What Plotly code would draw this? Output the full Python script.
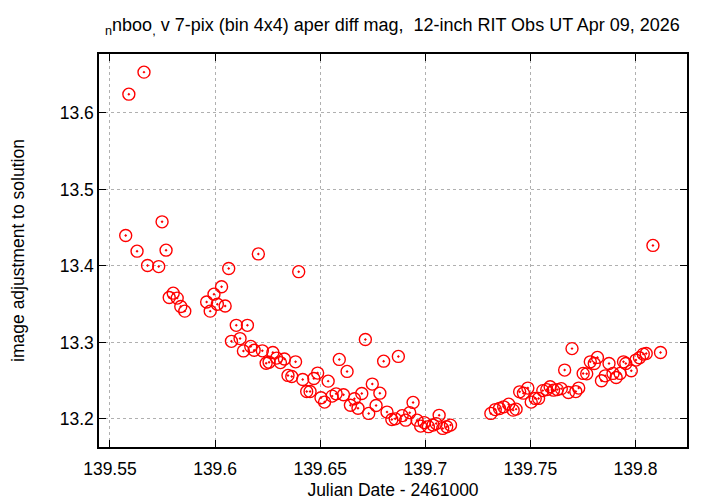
import plotly.graph_objects as go

# Julian Date - 2461000
jd = [
    139.5575, 139.5590, 139.5629, 139.5662, 139.5679, 139.5732, 139.5748, 139.5767,
    139.5782, 139.5801, 139.5820, 139.5837, 139.5856, 139.5960, 139.5977, 139.5995,
    139.6011, 139.6031, 139.6048, 139.6065, 139.6078, 139.6101, 139.6119, 139.6135,
    139.6154, 139.6170, 139.6186, 139.6206, 139.6225, 139.6243, 139.6257, 139.6275,
    139.6293, 139.6311, 139.6330, 139.6347, 139.6365, 139.6383, 139.6398, 139.6417,
    139.6436, 139.6452, 139.6470, 139.6488, 139.6504, 139.6521, 139.6538, 139.6557,
    139.6576, 139.6591, 139.6611, 139.6628, 139.6644, 139.6663, 139.6680, 139.6698,
    139.6715, 139.6731, 139.6748, 139.6766, 139.6784, 139.6802, 139.6818, 139.6841,
    139.6857, 139.6872, 139.6890, 139.6907, 139.6926, 139.6942, 139.6961, 139.6978,
    139.6995, 139.7015, 139.7037, 139.7052, 139.7066, 139.7083, 139.7102, 139.7120,
    139.7312, 139.7333, 139.7353, 139.7373, 139.7397, 139.7418, 139.7432, 139.7449,
    139.7467, 139.7488, 139.7504, 139.7523, 139.7539, 139.7559, 139.7578, 139.7594,
    139.7610, 139.7628, 139.7647, 139.7663, 139.7681, 139.7698, 139.7716, 139.7730,
    139.7751, 139.7768, 139.7785, 139.7804, 139.7819, 139.7838, 139.7856, 139.7874,
    139.7893, 139.7908, 139.7927, 139.7943, 139.7954, 139.7980, 139.8002, 139.8019,
    139.8037, 139.8051, 139.8083, 139.8119,
]

# image adjustment to solution (mag)
mag = [
    13.4398, 13.6245, 13.4193, 13.6533, 13.4006, 13.3991, 13.4576, 13.4206,
    13.3588, 13.3644, 13.3579, 13.3470, 13.3409, 13.3529, 13.3409, 13.3631,
    13.3498, 13.3727, 13.3477, 13.3967, 13.3014, 13.3223, 13.3050, 13.2889,
    13.3223, 13.2948, 13.2897, 13.4157, 13.2890, 13.2727, 13.2740, 13.2869,
    13.2795, 13.2736, 13.2784, 13.2569, 13.2555, 13.2746, 13.3925, 13.2516,
    13.2359, 13.2359, 13.2529, 13.2599, 13.2276, 13.2220, 13.2494, 13.2298,
    13.2328, 13.2778, 13.2315, 13.2621, 13.2178, 13.2263, 13.2139, 13.2333,
    13.3039, 13.2072, 13.2455, 13.2176, 13.2337, 13.2755, 13.2089, 13.1993,
    13.2001, 13.2817, 13.2043, 13.1984, 13.2082, 13.2216, 13.1984, 13.1906,
    13.1952, 13.1899, 13.1919, 13.1939, 13.2047, 13.1876, 13.1897, 13.1919,
    13.2072, 13.2122, 13.2137, 13.2158, 13.2193, 13.2115, 13.2128, 13.2354,
    13.2337, 13.2403, 13.2220, 13.2268, 13.2268, 13.2370, 13.2383, 13.2420,
    13.2376, 13.2383, 13.2396, 13.2638, 13.2346, 13.2919, 13.2357, 13.2403,
    13.2595, 13.2589, 13.2746, 13.2725, 13.2804, 13.2498, 13.2563, 13.2725,
    13.2595, 13.2542, 13.2595, 13.2746, 13.2725, 13.2629, 13.2769, 13.2799,
    13.2847, 13.2856, 13.4268, 13.2869,
]

x_ticks = [139.55, 139.6, 139.65, 139.7, 139.75, 139.8]
x_tick_labels = ["139.55", "139.6", "139.65", "139.7", "139.75", "139.8"]
y_ticks = [13.2, 13.3, 13.4, 13.5, 13.6]
y_tick_labels = ["13.2", "13.3", "13.4", "13.5", "13.6"]

title_text = ("<sub>n</sub>nboo<sub>,</sub> v 7-pix (bin 4x4) aper diff mag,  "
              "12-inch RIT Obs UT Apr 09, 2026")

FONT = "Liberation Sans, Arial, sans-serif"

fig = go.Figure()
fig.add_trace(go.Scatter(
    x=jd, y=mag, mode="markers",
    marker=dict(symbol="circle-open-dot", size=12, color="#ff0000",
                line=dict(width=1.4, color="#ff0000")),
    showlegend=False,
))

axis_common = dict(
    showline=True, linecolor="black", linewidth=1.5, mirror="ticks",
    ticks="inside", ticklen=7, tickcolor="black", tickwidth=1,
    showgrid=True, gridcolor="#b0b0b0", griddash="dot", gridwidth=1,
    zeroline=False, automargin=False,
    tickfont=dict(family=FONT, size=17.5, color="black"),
)

fig.update_layout(
    width=720, height=504,
    paper_bgcolor="white", plot_bgcolor="white",
    margin=dict(l=91, r=41, t=46, b=65),
    title=dict(text=title_text, x=0.534, xanchor="center", y=0.966, yanchor="middle",
               font=dict(family=FONT, size=18, color="black")),
    xaxis=dict(axis_common, range=[139.5448, 139.8245], tickvals=x_ticks,
               ticktext=x_tick_labels, ticklabelstandoff=5,
               title=dict(text="Julian Date - 2461000", standoff=6,
                          font=dict(family=FONT, size=17.5, color="black"))),
    yaxis=dict(axis_common, range=[13.1633, 13.677], tickvals=y_ticks,
               ticktext=y_tick_labels,
               title=dict(text="image adjustment to solution", standoff=32,
                          font=dict(family=FONT, size=17.5, color="black"))),
)

fig.write_html("out.html")
